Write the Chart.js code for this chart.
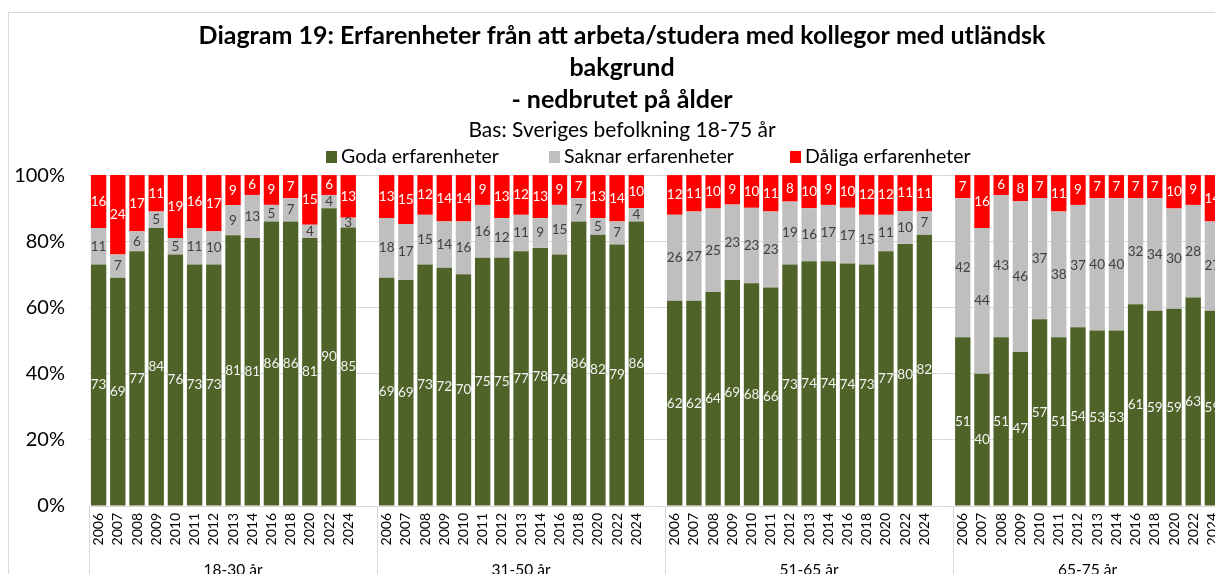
<!DOCTYPE html>
<html lang="sv">
<head>
<meta charset="utf-8">
<title>Diagram 19</title>
<script src="https://cdn.jsdelivr.net/npm/chart.js@4.4.1/dist/chart.umd.min.js"></script>
<style>
  html, body { margin: 0; padding: 0; background: #fff; overflow: hidden; }
  #wrap { position: relative; width: 1240px; height: 600px; }
</style>
</head>
<body>
<div id="wrap"><canvas id="chart"></canvas></div>
<script>
  // Data
  const ageGroups = ['18-30 år', '31-50 år', '51-65 år', '65-75 år'];
  const years = ['2006', '2007', '2008', '2009', '2010', '2011', '2012', '2013', '2014', '2016', '2018', '2020', '2022', '2024'];
  const seriesNames = ['Goda erfarenheter', 'Saknar erfarenheter', 'Dåliga erfarenheter'];

  // one row per age group, one value per year
  const goda = [
    [73, 69, 77, 84, 76, 73, 73, 81, 81, 86, 86, 81, 90, 85],
    [69, 69, 73, 72, 70, 75, 75, 77, 78, 76, 86, 82, 79, 86],
    [62, 62, 64, 69, 68, 66, 73, 74, 74, 74, 73, 77, 80, 82],
    [51, 40, 51, 47, 57, 51, 54, 53, 53, 61, 59, 59, 63, 59]
  ];
  const saknar = [
    [11, 7, 6, 5, 5, 11, 10, 9, 13, 5, 7, 4, 4, 3],
    [18, 17, 15, 14, 16, 16, 12, 11, 9, 15, 7, 5, 7, 4],
    [26, 27, 25, 23, 23, 23, 19, 16, 17, 17, 15, 11, 10, 7],
    [42, 44, 43, 46, 37, 38, 37, 40, 40, 32, 34, 30, 28, 27]
  ];
  const daliga = [
    [16, 24, 17, 11, 19, 16, 17, 9, 6, 9, 7, 15, 6, 13],
    [13, 15, 12, 14, 14, 9, 13, 12, 13, 9, 7, 13, 14, 10],
    [12, 11, 10, 9, 10, 11, 8, 10, 9, 10, 12, 12, 11, 11],
    [7, 16, 6, 8, 7, 11, 9, 7, 7, 7, 7, 10, 9, 14]
  ];

  const yTicks = [0, 20, 40, 60, 80, 100];

  const colors = ['#4f6228', '#bfbfbf', '#ff0000'];
  const labelColors = ['#f2f2f2', '#404040', '#ffffff'];
  const FONT = 'Lato, "Open Sans", sans-serif';

  // flatten groups, with an empty slot between age groups
  const slotsPerGroup = years.length + 1;
  const labels = [];
  ageGroups.forEach((g, gi) => {
    years.forEach(y => labels.push(y));
    if (gi < ageGroups.length - 1) labels.push('');
  });
  function flatten(rows) {
    const out = [];
    rows.forEach((row, gi) => {
      row.forEach(v => out.push(v));
      if (gi < rows.length - 1) out.push(null);
    });
    return out;
  }

  // 100% stacked, like the original: each bar is scaled to its own total
  const rawSeries = [flatten(goda), flatten(saknar), flatten(daliga)];
  const totals = rawSeries[0].map((v, i) => v === null ? null : rawSeries[0][i] + rawSeries[1][i] + rawSeries[2][i]);
  const shares = rawSeries.map(s => s.map((v, i) => v === null ? null : v * 100 / totals[i]));

  // value labels inside each segment (the rounded numbers from the source)
  const segmentLabels = {
    id: 'segmentLabels',
    afterDatasetsDraw(chart) {
      const ctx = chart.ctx;
      ctx.save();
      ctx.font = '13.5px ' + FONT;
      ctx.textAlign = 'center';
      ctx.textBaseline = 'middle';
      chart.data.datasets.forEach((ds, di) => {
        const meta = chart.getDatasetMeta(di);
        ctx.fillStyle = labelColors[di];
        meta.data.forEach((bar, i) => {
          const v = rawSeries[di][i];
          if (v === null || v === undefined) return;
          ctx.fillText(String(v), bar.x, (bar.y + bar.base) / 2);
        });
      });
      ctx.restore();
    }
  };

  // frame, legend, group separators and group names
  const decorations = {
    id: 'decorations',
    afterLayout(chart) {
      // the original titles sit a little right of the canvas centre
      chart.boxes.forEach(b => {
        if (b.position === 'top' && b.fullSize) b.left += 22;
      });
    },
    beforeDraw(chart) {
      const ctx = chart.ctx;
      ctx.save();
      ctx.strokeStyle = '#d9d9d9';
      ctx.lineWidth = 1;
      ctx.strokeRect(8.5, 12.5, 1400, 800);
      ctx.restore();
    },
    afterDraw(chart) {
      const ctx = chart.ctx;
      const x = chart.scales.x;
      const area = chart.chartArea;
      const slot = x.getPixelForValue(1) - x.getPixelForValue(0);
      ctx.save();

      // legend
      ctx.font = '19.5px ' + FONT;
      ctx.textBaseline = 'middle';
      ctx.textAlign = 'left';
      const legendX = [326, 549, 790];
      const legendY = 157;
      seriesNames.forEach((name, i) => {
        ctx.fillStyle = colors[i];
        ctx.fillRect(legendX[i], legendY - 6, 11, 12);
        ctx.fillStyle = '#000';
        ctx.fillText(name, legendX[i] + 15, legendY);
      });

      // group separators
      ctx.strokeStyle = '#d9d9d9';
      ctx.lineWidth = 1;
      ctx.beginPath();
      for (let g = 0; g < ageGroups.length; g++) {
        const px = Math.round(x.getPixelForValue(g * slotsPerGroup) - slot / 2) + 0.5;
        ctx.moveTo(px, area.bottom);
        ctx.lineTo(px, chart.height);
      }
      ctx.stroke();

      // group names
      ctx.font = '15.5px ' + FONT;
      ctx.fillStyle = '#000';
      ctx.textAlign = 'center';
      ageGroups.forEach((g, gi) => {
        const start = x.getPixelForValue(gi * slotsPerGroup) - slot / 2;
        const end = start + slotsPerGroup * slot;
        const last = gi === ageGroups.length - 1 ? area.right : end;
        ctx.fillText(g, (start + last) / 2, 570);
      });
      ctx.restore();
    }
  };

  const ctx = document.getElementById('chart').getContext('2d');
  const chart = new Chart(ctx, {
    type: 'bar',
    data: {
      labels: labels,
      datasets: [
        { label: seriesNames[0], data: shares[0], backgroundColor: colors[0] },
        { label: seriesNames[1], data: shares[1], backgroundColor: colors[1] },
        { label: seriesNames[2], data: shares[2], backgroundColor: colors[2] }
      ]
    },
    options: {
      responsive: true,
      maintainAspectRatio: false,
      animation: false,
      layout: { padding: { top: 20, left: 0, right: 18, bottom: 0 } },
      datasets: {
        bar: { categoryPercentage: 1, barPercentage: 0.8, borderWidth: 0 }
      },
      scales: {
        x: {
          stacked: true,
          grid: { display: false, drawTicks: false },
          border: { display: false },
          ticks: {
            autoSkip: false,
            minRotation: 90,
            maxRotation: 90,
            padding: 7,
            color: '#000',
            font: { family: FONT, size: 14 }
          },
          afterFit(scale) { scale.height = 94; }
        },
        y: {
          stacked: true,
          min: 0,
          max: 100,
          afterBuildTicks(scale) { scale.ticks = yTicks.map(v => ({ value: v })); },
          grid: { color: '#d9d9d9', drawTicks: false },
          border: { display: false },
          ticks: {
            padding: 24,
            color: '#000',
            font: { family: FONT, size: 20 },
            callback: v => v + '%'
          },
          afterFit(scale) { scale.width = 89; }
        }
      },
      plugins: {
        legend: { display: false },
        tooltip: { enabled: false },
        title: {
          display: true,
          text: [
            'Diagram 19: Erfarenheter från att arbeta/studera med kollegor med utländsk',
            'bakgrund',
            '- nedbrutet på ålder'
          ],
          color: '#000',
          font: { family: FONT, size: 25, weight: 'bold', lineHeight: 1.28 },
          padding: { top: 0, bottom: 0 }
        },
        subtitle: {
          display: true,
          text: 'Bas: Sveriges befolkning 18-75 år',
          color: '#000',
          font: { family: FONT, size: 21, lineHeight: 1.1 },
          padding: { top: 3, bottom: 33 }
        }
      }
    },
    plugins: [segmentLabels, decorations]
  });
</script>
</body>
</html>
